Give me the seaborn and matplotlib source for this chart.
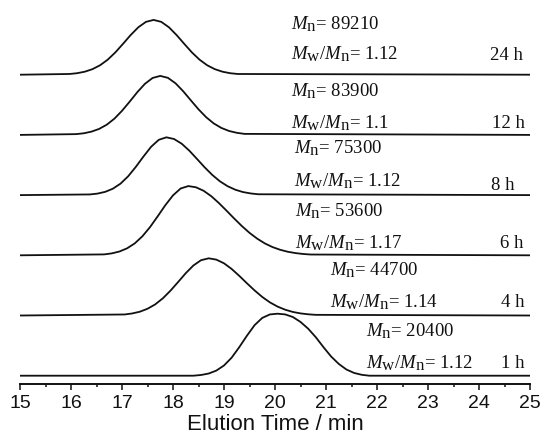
import numpy as np
import pandas as pd

import matplotlib
matplotlib.use('Agg')

import matplotlib.pyplot as plt
import seaborn as sns

# bigger sub-scripts, the figure's M_n labels use nearly full-size subscripts
try:
    import matplotlib._mathtext as _mt
    _mt.SHRINK_FACTOR = 0.9
except Exception:
    pass

# GPC traces (elution time in min, normalised signal)
t_1h = [15.0, 18.40, 18.55, 18.70, 18.85, 19.00, 19.15, 19.30, 19.45, 19.60, 19.75, 19.90, 20.05,
        20.20, 20.35, 20.50, 20.65, 20.80, 20.95, 21.10, 21.25, 21.40, 21.55, 21.70, 21.85, 25.0]
s_1h = [0.0, 0.000, 0.012, 0.036, 0.085, 0.170, 0.300, 0.475, 0.665, 0.840, 0.960, 1.018, 1.030,
        1.018, 0.975, 0.893, 0.781, 0.639, 0.474, 0.319, 0.196, 0.103, 0.046, 0.015, 0.000, 0.0]

t_4h = [15.0, 17.05, 17.20, 17.35, 17.50, 17.65, 17.80, 17.95, 18.10, 18.25, 18.40, 18.55, 18.70,
        18.85, 19.00, 19.15, 19.30, 19.45, 19.60, 19.75, 19.90, 20.05, 20.20, 20.35, 20.50, 20.65,
        20.80, 25.0]
s_4h = [0.0, 0.017, 0.034, 0.063, 0.112, 0.184, 0.285, 0.412, 0.556, 0.703, 0.831, 0.919, 0.950,
        0.928, 0.867, 0.773, 0.658, 0.535, 0.416, 0.308, 0.218, 0.148, 0.096, 0.059, 0.035, 0.020,
        0.011, 0.0]

t_6h = [15.0, 16.65, 16.80, 16.95, 17.10, 17.25, 17.40, 17.55, 17.70, 17.85, 18.00, 18.15, 18.30,
        18.45, 18.60, 18.75, 18.90, 19.05, 19.20, 19.35, 19.50, 19.65, 19.80, 19.95, 20.10, 20.25,
        20.40, 20.55, 20.70, 25.0]
s_6h = [0.0, 0.015, 0.032, 0.063, 0.116, 0.198, 0.316, 0.469, 0.648, 0.833, 0.996, 1.110, 1.150,
        1.130, 1.072, 0.982, 0.868, 0.741, 0.611, 0.486, 0.373, 0.277, 0.198, 0.137, 0.092, 0.059,
        0.037, 0.022, 0.013, 0.0]

t_8h = [15.0, 16.37, 16.52, 16.67, 16.82, 16.97, 17.12, 17.27, 17.42, 17.57, 17.72, 17.87,
        18.02, 18.17, 18.32, 18.47, 18.62, 18.77, 18.92, 19.07, 19.22, 19.37, 19.52, 19.67, 25.0]
s_8h = [0.0, 0.011, 0.025, 0.054, 0.106, 0.190, 0.312, 0.468, 0.640, 0.802, 0.918, 0.960,
        0.932, 0.854, 0.738, 0.601, 0.462, 0.335, 0.229, 0.148, 0.090, 0.051, 0.028, 0.014, 0.0]

t_12h = [15.0, 16.10, 16.25, 16.40, 16.55, 16.70, 16.85, 17.00, 17.15, 17.30, 17.45, 17.60, 17.75,
         17.90, 18.05, 18.20, 18.35, 18.50, 18.65, 18.80, 18.95, 19.10, 19.25, 19.40, 25.0]
s_12h = [0.0, 0.013, 0.027, 0.054, 0.099, 0.169, 0.269, 0.400, 0.552, 0.710, 0.849, 0.946, 0.980,
         0.948, 0.857, 0.725, 0.574, 0.425, 0.294, 0.190, 0.115, 0.065, 0.035, 0.017, 0.0]

t_24h = [15.0, 15.97, 16.12, 16.27, 16.42, 16.57, 16.72, 16.87, 17.02, 17.17, 17.32, 17.47, 17.62,
         17.77, 17.92, 18.07, 18.22, 18.37, 18.52, 18.67, 18.82, 18.97, 19.12, 19.27, 25.0]
s_24h = [0.0, 0.012, 0.025, 0.050, 0.092, 0.157, 0.250, 0.371, 0.513, 0.659, 0.788, 0.878, 0.910,
         0.878, 0.788, 0.659, 0.513, 0.371, 0.250, 0.157, 0.092, 0.050, 0.025, 0.012, 0.0]

samples = ['1 h', '4 h', '6 h', '8 h', '12 h', '24 h']
times = [t_1h, t_4h, t_6h, t_8h, t_12h, t_24h]
signals = [s_1h, s_4h, s_6h, s_8h, s_12h, s_24h]
offsets = [0, 1, 2, 3, 4, 5]

mn_values = ['20400', '44700', '53600', '75300', '83900', '89210']
pdi_values = ['1.12', '1.14', '1.17', '1.12', '1.1', '1.12']

# label placement (x of left edge, baselines of the two lines, right edge of time label)
label_x = [21.78, 21.07, 20.40, 20.38, 20.31, 20.31]
mn_y = [0.651, 1.676, 2.645, 3.696, 4.638, 5.751]
pdi_y = [0.125, 1.138, 2.118, 3.143, 4.111, 5.252]
hour_x = [24.90, 24.90, 24.86, 24.70, 24.90, 24.86]
hour_y = [0.125, 1.138, 2.118, 3.093, 4.111, 5.252]

rows = []
for name, t, s, off in zip(samples, times, signals, offsets):
    for ti, si in zip(t, s):
        rows.append({'time': ti, 'signal': si + off, 'sample': name})
df = pd.DataFrame(rows)

sns.set_theme(style='ticks')
plt.rcParams['font.family'] = ['Liberation Sans', 'DejaVu Sans']
plt.rcParams['mathtext.fontset'] = 'custom'
plt.rcParams['mathtext.rm'] = 'Liberation Serif'
plt.rcParams['mathtext.it'] = 'Liberation Serif:italic'

fig = plt.figure(figsize=(5.42, 4.42), dpi=100)
ax = fig.add_axes([0.0369, 0.1312, 0.941, 0.8688])

sns.lineplot(data=df, x='time', y='signal', hue='sample', palette=['#111111'] * 6,
             legend=False, estimator=None, sort=False, linewidth=1.3, ax=ax)

serif = ['Liberation Serif', 'DejaVu Serif']
for i in range(len(samples)):
    ax.text(label_x[i], mn_y[i], r'$M_\mathrm{n}$= ' + mn_values[i],
            fontsize=13.5, family=serif, va='baseline', ha='left', color='#111111')
    ax.text(label_x[i], pdi_y[i], r'$M_\mathrm{w}/M_\mathrm{n}$= ' + pdi_values[i],
            fontsize=13.5, family=serif, va='baseline', ha='left', color='#111111')
    ax.text(hour_x[i], hour_y[i], samples[i],
            fontsize=13.5, family=serif, va='baseline', ha='right', color='#111111')

ax.set_xlim(15, 25)
ax.set_ylim(-0.138, 6.241)
ax.set_xticks(range(15, 26))
ax.set_xticks(np.arange(15.5, 25, 1.0), minor=True)
ax.tick_params(axis='x', which='major', direction='out', length=4, width=1.1,
               labelsize=14, pad=4, color='#111111', labelcolor='#111111')
ax.tick_params(axis='x', which='minor', direction='out', length=2.2, width=1.1, color='#111111')
ax.set_yticks([])
ax.set_xlabel('Elution Time / min', fontsize=16, labelpad=1, color='#111111')
ax.set_ylabel('')

for side in ['left', 'top', 'right']:
    ax.spines[side].set_visible(False)
ax.spines['bottom'].set_linewidth(1.4)
ax.spines['bottom'].set_color('#111111')
ax.patch.set_alpha(0)

fig.savefig('out.png', dpi=100)
plt.close(fig)
